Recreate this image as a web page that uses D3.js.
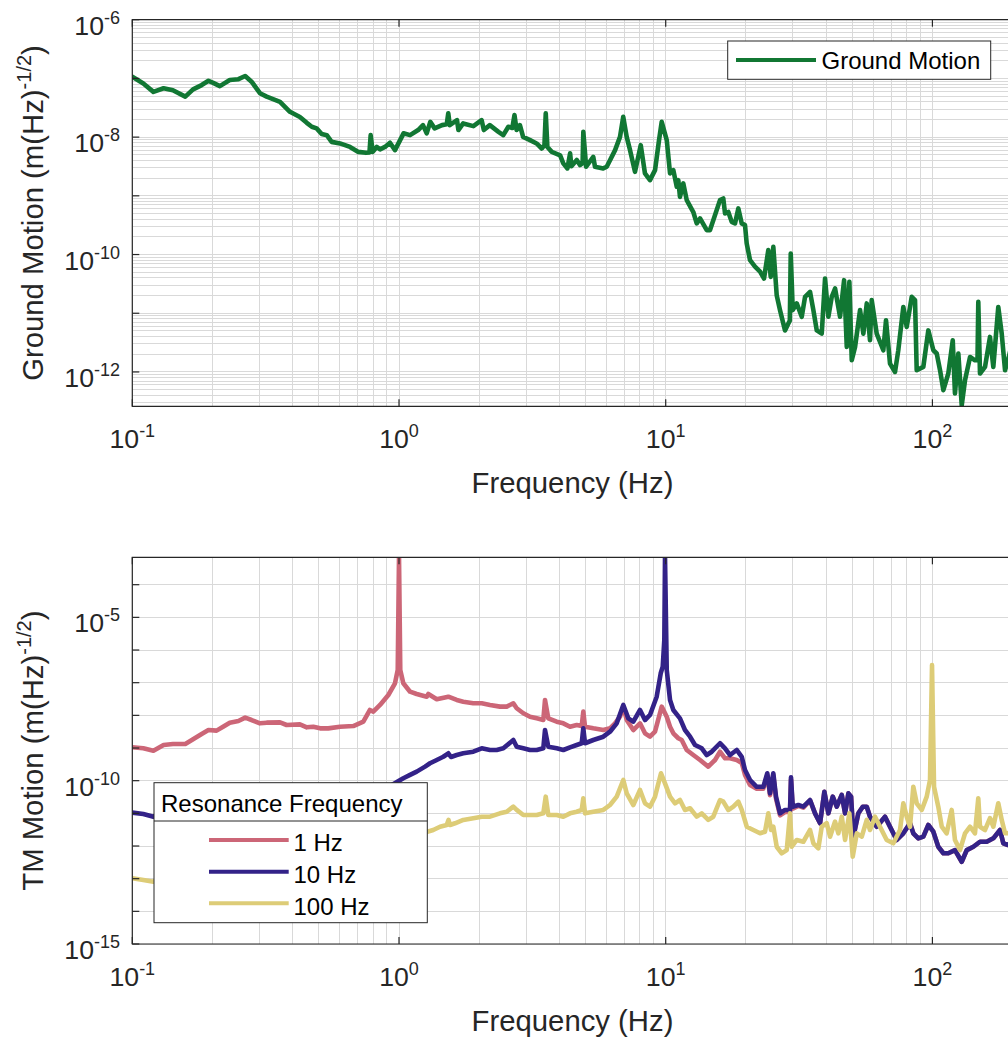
<!DOCTYPE html>
<html>
<head>
<meta charset="utf-8">
<script src="https://cdn.jsdelivr.net/npm/d3@7"></script>
<style>
  html, body { margin: 0; padding: 0; background: #fff; }
  svg { display: block; font-family: "Liberation Sans", Arial, Helvetica, sans-serif; }
</style>
</head>
<body>
<svg id="fig" width="1008" height="1040"></svg>
<script>
// Amplitude spectral densities, [frequency (Hz), amplitude (m/sqrt(Hz))]

const groundMotion = [
  [0.100,1.07e-7],[0.110,8.2e-8],[0.120,5.9e-8],[0.131,6.8e-8],[0.142,6.3e-8],[0.158,4.9e-8],
  [0.169,6.5e-8],[0.182,7.7e-8],[0.193,9.1e-8],[0.201,8.4e-8],[0.213,7.4e-8],[0.232,9.4e-8],
  [0.250,9.7e-8],[0.265,1.1e-7],[0.280,8.8e-8],[0.301,5.6e-8],[0.319,4.9e-8],[0.358,4.0e-8],
  [0.390,2.7e-8],[0.425,2.2e-8],[0.451,1.75e-8],[0.471,1.5e-8],[0.491,1.41e-8],[0.513,1.13e-8],
  [0.536,1.08e-8],[0.559,8.3e-9],[0.601,7.8e-9],[0.655,6.8e-9],[0.704,5.6e-9],[0.752,5.4e-9],
  [0.775,5.5e-9],[0.783,1.08e-8],[0.797,5.6e-9],[0.825,6.8e-9],[0.849,6.2e-9],[0.886,6.8e-9],
  [0.925,8.0e-9],[0.966,6.0e-9],[1.04,1.16e-8],[1.10,1.08e-8],[1.18,1.32e-8],[1.23,1.6e-8],
  [1.27,1.16e-8],[1.31,1.82e-8],[1.36,1.41e-8],[1.45,1.6e-8],[1.51,1.65e-8],[1.53,2.54e-8],
  [1.55,1.6e-8],[1.65,1.95e-8],[1.67,1.32e-8],[1.74,1.71e-8],[1.90,1.54e-8],[2.04,1.95e-8],
  [2.08,1.32e-8],[2.19,1.6e-8],[2.36,1.23e-8],[2.46,1.08e-8],[2.57,1.5e-8],[2.66,1.43e-8],
  [2.71,2.38e-8],[2.76,1.32e-8],[2.84,1.6e-8],[2.92,1.01e-8],[3.10,8.9e-9],[3.28,7.8e-9],
  [3.43,6.4e-9],[3.51,7.3e-9],[3.55,2.54e-8],[3.60,6.8e-9],[3.74,5.6e-9],[4.02,4.9e-9],
  [4.13,3.57e-9],[4.28,2.93e-9],[4.38,5.3e-9],[4.43,3.2e-9],[4.64,4.07e-9],[4.77,3.34e-9],
  [4.88,3.6e-9],[4.91,1.23e-8],[5.03,3.13e-9],[5.35,4.6e-9],[5.43,3.13e-9],[5.83,2.93e-9],
  [6.01,3.13e-9],[6.46,6.0e-9],[6.74,1.01e-8],[6.93,2.22e-8],[7.14,1.01e-8],[7.35,6.0e-9],
  [7.67,2.56e-9],[8.06,7.3e-9],[8.36,2.41e-9],[8.73,1.85e-9],[9.12,2.74e-9],[9.44,8.9e-9],
  [9.66,1.82e-8],[10.09,8.9e-9],[10.38,2.41e-9],[10.68,2.74e-9],[11.00,1.43e-9],[11.15,1.85e-9],
  [11.31,9.6e-10],[11.64,1.63e-9],[11.99,8.45e-10],[12.69,5.3e-10],[13.07,3.39e-10],[13.45,4.12e-10],
  [14.25,2.61e-10],[14.66,2.61e-10],[15.08,3.85e-10],[15.98,8.45e-10],[16.44,9.0e-10],[16.69,5.0e-10],
  [17.17,5.3e-10],[17.68,3.6e-10],[18.19,3.39e-10],[18.72,6.1e-10],[19.28,3.39e-10],[19.83,3.17e-10],
  [20.12,1.55e-10],[20.71,8.0e-11],[21.62,6.2e-11],[22.58,5.1e-11],[23.37,3.91e-11],[24.25,1.19e-10],
  [24.76,4.17e-11],[25.32,1.35e-10],[26.07,2.03e-11],[26.83,1.13e-11],[28.01,5.1e-12],[28.83,6.7e-12],
  [29.20,7.5e-12],[29.43,1.04e-10],[29.94,1.13e-11],[31.0,1.47e-11],[32.36,8.7e-12],[33.30,1.9e-11],
  [34.77,2.31e-11],[35.78,1.13e-11],[36.84,5.1e-12],[38.46,4.5e-12],[39.58,3.91e-11],[40.72,8.7e-12],
  [41.93,1.9e-11],[43.15,2.64e-11],[45.05,8.7e-12],[46.65,3.66e-11],[47.74,2.67e-12],[48.82,3.42e-11],
  [49.84,1.58e-12],[51.29,2.67e-12],[53.54,1.13e-11],[55.10,4.5e-12],[56.73,1.47e-11],[58.35,3.47e-12],
  [59.21,1.67e-11],[61.82,4.5e-12],[65.45,2.34e-12],[66.99,7.6e-12],[69.34,1.39e-12],[72.41,1.0e-12],
  [74.49,2.34e-12],[77.79,1.28e-11],[80.10,5.85e-12],[83.64,1.9e-11],[86.06,1.67e-11],[87.32,1.07e-12],
  [92.46,1.22e-12],[96.53,5.1e-12],[100.8,2.34e-12],[103.8,2.06e-12],[106.8,1.07e-12],[109.9,4.9e-13],
  [114.7,9.4e-13],[119.2,3.47e-12],[121.5,4.3e-13],[125.1,2.06e-12],[128.8,2.71e-13],[132.5,7.2e-13],
  [138.4,1.8e-12],[144.4,1.58e-12],[147.6,1.6e-12],[148.6,1.56e-11],[150.8,9.4e-13],[157.5,1.22e-12],
  [164.4,3.95e-12],[169.2,1.22e-12],[176.6,1.28e-11],[181.9,4.5e-12],[187.2,1.07e-12],[192.1,1.58e-12],
  [200,3.47e-12]
];

// Test-mass motion for a 1 Hz resonance
const tm1Hz = [
  [0.100,1.05e-9],[0.110,9.8e-10],[0.120,8.3e-10],[0.131,1.24e-9],[0.142,1.33e-9],[0.158,1.33e-9],
  [0.169,1.85e-9],[0.182,2.69e-9],[0.193,3.56e-9],[0.207,3.4e-9],[0.219,4.5e-9],[0.232,5.97e-9],
  [0.250,6.73e-9],[0.265,8.5e-9],[0.280,7.2e-9],[0.301,5.7e-9],[0.319,5.97e-9],[0.358,6.1e-9],
  [0.379,5.07e-9],[0.425,5.3e-9],[0.451,4.3e-9],[0.477,4.5e-9],[0.506,4.0e-9],[0.543,4.0e-9],
  [0.601,4.5e-9],[0.674,4.7e-9],[0.735,6.4e-9],[0.778,1.46e-8],[0.801,1.3e-8],[0.849,2.08e-8],
  [0.912,4.2e-8],[0.966,9.6e-8],[0.989,2.45e-7],[1.0,7e-4],[1.011,2.45e-7],[1.038,9.6e-8],
  [1.100,5.3e-8],[1.165,4.5e-8],[1.270,3.73e-8],[1.288,4.5e-8],[1.385,3.1e-8],[1.531,3.73e-8],
  [1.646,2.96e-8],[1.742,2.62e-8],[1.899,2.34e-8],[2.042,2.34e-8],[2.194,2.08e-8],[2.391,1.85e-8],
  [2.534,1.85e-8],[2.683,2.34e-8],[2.762,1.65e-8],[2.925,1.16e-8],[3.099,9.1e-9],[3.283,8.1e-9],
  [3.476,7.2e-9],[3.527,2.96e-8],[3.629,8.1e-9],[3.902,6.4e-9],[4.131,5.7e-9],[4.377,4.5e-9],
  [4.638,5.07e-9],[4.842,4.7e-9],[4.909,1.3e-8],[4.982,4.5e-9],[5.352,4.0e-9],[5.835,3.56e-9],
  [6.183,4.0e-9],[6.455,5.7e-9],[6.739,9.1e-9],[6.934,1.85e-8],[7.142,7.2e-9],[7.560,3.56e-9],
  [8.010,5.7e-9],[8.363,2.82e-9],[8.731,2.22e-9],[9.117,3.16e-9],[9.661,1.85e-8],[10.09,9.1e-9],
  [10.38,4.5e-9],[10.68,2.82e-9],[11.15,1.99e-9],[11.48,1.76e-9],[11.99,8.7e-10],[12.69,6.1e-10],
  [13.45,4.3e-10],[14.44,2.69e-10],[15.31,4.3e-10],[15.98,7.7e-10],[16.69,4.85e-10],[17.42,4.85e-10],
  [18.46,4.3e-10],[19.28,3.48e-10],[19.83,1.5e-10],[20.71,7.4e-11],[21.94,5.7e-11],[23.23,5.7e-11],
  [24.04,1.47e-10],[24.61,3.6e-11],[25.32,1.47e-10],[25.92,2.8e-11],[26.83,8.7e-12],[28.01,1.1e-11],
  [29.25,1.1e-11],[29.50,1.1e-10],[29.94,1.4e-11],[31.43,1.7e-11],[32.81,1.5e-11],[34.77,2.5e-11],
  [36.30,1.0e-11],[37.91,4.97e-12],[39.34,4.6e-11],[40.72,1.0e-11],[42.30,3.24e-11],[43.79,1.6e-11],
  [45.72,3.65e-11],[47.05,1.0e-11],[48.41,4.1e-11],[49.55,3.24e-11],[50.54,1.93e-12],[52.76,1.0e-11],
  [54.81,1.6e-11],[56.73,1.6e-11],[58.35,7.9e-12],[61.82,3.9e-12],[66.42,7.9e-12],[69.34,3.9e-12],
  [73.47,1.53e-12],[77.79,2.45e-12],[82.41,4.97e-12],[84.80,2.45e-12],[88.54,1.72e-12],[92.46,1.93e-12],
  [96.53,4.4e-12],[100.8,2.74e-12],[105.2,9.5e-13],[109.9,6.0e-13],[114.7,6.0e-13],[121.5,7.5e-13],
  [128.8,3.3e-13],[134.5,7.5e-13],[142.4,9.5e-13],[150.8,1.35e-12],[159.8,1.35e-12],[169.2,1.72e-12],
  [179.3,3.1e-12],[184.4,1.21e-12],[192.1,1.07e-12],[200.6,1.53e-12]
];

// Test-mass motion for a 10 Hz resonance
const tm10Hz = [
  [0.100,1.05e-11],[0.110,9.5e-12],[0.120,7.9e-12],[0.131,1.15e-11],[0.158,1.2e-11],[0.193,3.4e-11],
  [0.250,6.1e-11],[0.280,6.9e-11],[0.320,5.0e-11],[0.390,4.1e-11],[0.470,3.3e-11],[0.560,2.6e-11],
  [0.700,2.8e-11],[0.780,5.5e-11],[0.900,6.0e-11],[1.0,1.0e-10],[1.038,1.19e-10],[1.100,1.5e-10],
  [1.165,1.89e-10],[1.252,2.69e-10],[1.307,3.41e-10],[1.385,4.3e-10],[1.466,5.4e-10],[1.531,6.9e-10],
  [1.567,5.3e-10],[1.646,6.1e-10],[1.742,6.9e-10],[1.899,7.7e-10],[2.042,9.8e-10],[2.194,8.7e-10],
  [2.324,8.7e-10],[2.461,9.8e-10],[2.683,1.76e-9],[2.762,1.1e-9],[2.925,9.8e-10],[3.099,8.7e-10],
  [3.283,8.7e-10],[3.476,9.8e-10],[3.527,3.56e-9],[3.629,1.1e-9],[3.902,9.8e-10],[4.131,8.7e-10],
  [4.377,1.05e-9],[4.638,1.24e-9],[4.842,1.4e-9],[4.909,4.0e-9],[4.982,1.4e-9],[5.352,1.76e-9],
  [5.835,2.22e-9],[6.183,3.16e-9],[6.551,5.7e-9],[6.934,2.08e-8],[7.241,8.1e-9],[7.560,6.4e-9],
  [8.010,1.46e-8],[8.363,7.2e-9],[8.731,1.03e-8],[9.251,3.73e-8],[9.578,1.94e-7],[9.746,3.09e-7],
  [9.881,2.03e-6],[9.940,7e-4],[10.09,2.45e-7],[10.38,2.96e-8],[10.68,1.46e-8],[11.31,8.1e-9],
  [11.81,3.56e-9],[12.34,2.22e-9],[12.88,1.24e-9],[13.65,9.8e-10],[14.25,6.1e-10],[14.88,7.7e-10],
  [15.98,1.4e-9],[16.69,9.8e-10],[17.42,6.1e-10],[18.46,8.7e-10],[19.28,5.4e-10],[19.83,2.13e-10],
  [20.71,1.05e-10],[21.94,6.5e-11],[23.23,6.5e-11],[24.04,1.69e-10],[24.61,4.1e-11],[25.32,1.69e-10],
  [25.92,3.24e-11],[26.83,1.0e-11],[28.01,1.27e-11],[29.25,1.27e-11],[29.50,1.27e-10],[29.94,1.6e-11],
  [31.43,1.8e-11],[32.81,1.6e-11],[34.77,2.56e-11],[36.30,1.0e-11],[37.91,4.97e-12],[39.34,4.6e-11],
  [40.72,1.0e-11],[42.30,3.24e-11],[43.79,1.6e-11],[45.72,3.65e-11],[47.05,1.0e-11],[48.41,4.1e-11],
  [49.55,3.24e-11],[50.54,1.93e-12],[52.76,1.0e-11],[54.81,1.6e-11],[56.73,1.6e-11],[58.35,7.9e-12],
  [61.82,3.9e-12],[66.42,7.9e-12],[69.34,3.9e-12],[73.47,1.53e-12],[77.79,2.45e-12],[82.41,4.97e-12],
  [84.80,2.45e-12],[88.54,1.72e-12],[92.46,1.93e-12],[96.53,4.4e-12],[100.8,2.74e-12],[105.2,9.5e-13],
  [109.9,6.0e-13],[114.7,6.0e-13],[121.5,7.5e-13],[128.8,3.3e-13],[134.5,7.5e-13],[142.4,9.5e-13],
  [150.8,1.35e-12],[159.8,1.35e-12],[169.2,1.72e-12],[179.3,3.1e-12],[184.4,1.21e-12],[192.1,1.07e-12],
  [200.6,1.53e-12]
];

// Test-mass motion for a 100 Hz resonance
const tm100Hz = [
  [0.100,1.03e-13],[0.110,9.1e-14],[0.120,8.1e-14],[0.131,1.15e-13],[0.158,1.2e-13],[0.193,3.4e-13],
  [0.250,6.1e-13],[0.280,6.9e-13],[0.320,5.0e-13],[0.390,4.1e-13],[0.470,3.3e-13],[0.560,2.6e-13],
  [0.700,2.8e-13],[0.780,5.5e-13],[0.900,6.0e-13],[1.0,1.0e-12],[1.10,1.3e-12],[1.20,1.9e-12],
  [1.277,2.74e-12],[1.344,3.1e-12],[1.425,3.9e-12],[1.510,4.4e-12],[1.533,6.3e-12],[1.553,4.4e-12],
  [1.622,4.97e-12],[1.742,6.3e-12],[1.899,7.1e-12],[2.042,7.9e-12],[2.194,7.9e-12],[2.391,1.0e-11],
  [2.534,1.12e-11],[2.683,1.6e-11],[2.762,1.27e-11],[2.925,8.9e-12],[3.099,8.9e-12],[3.283,8.9e-12],
  [3.476,1.0e-11],[3.549,3.24e-11],[3.629,8.9e-12],[3.902,8.9e-12],[4.131,7.9e-12],[4.377,1.0e-11],
  [4.638,1.12e-11],[4.842,1.27e-11],[4.909,2.89e-11],[4.982,1.0e-11],[5.352,1.12e-11],[5.835,1.27e-11],
  [6.183,1.8e-11],[6.551,3.24e-11],[6.934,1.05e-10],[7.142,4.1e-11],[7.560,1.8e-11],[8.010,5.2e-11],
  [8.363,2.03e-11],[8.731,1.6e-11],[9.117,3.24e-11],[9.602,1.69e-10],[9.940,8.3e-11],[10.38,3.24e-11],
  [10.84,2.03e-11],[11.31,2.56e-11],[11.81,1.27e-11],[12.34,1.43e-11],[13.07,7.9e-12],[13.65,1.0e-11],
  [14.44,6.3e-12],[15.08,7.9e-12],[15.98,2.56e-11],[16.44,2.28e-11],[17.17,1.27e-11],[17.93,1.6e-11],
  [18.72,2.28e-11],[19.28,1.27e-11],[20.13,3.9e-12],[21.31,3.1e-12],[22.58,2.45e-12],[23.57,2.74e-12],
  [24.25,1.0e-11],[24.82,3.1e-12],[25.32,3.9e-12],[26.07,9.5e-13],[27.22,6.0e-13],[28.43,7.5e-13],
  [29.25,1.0e-11],[29.68,9.5e-13],[31.0,1.53e-12],[32.81,1.35e-12],[34.77,3.1e-12],[35.78,1.21e-12],
  [37.35,8.5e-13],[38.46,3.9e-12],[40.16,4.97e-12],[41.32,1.93e-12],[43.15,5.6e-12],[44.40,2.45e-12],
  [45.72,7.9e-12],[47.05,1.53e-12],[48.82,1.0e-11],[50.27,4.7e-13],[52.04,2.45e-12],[54.34,1.93e-12],
  [56.73,6.3e-12],[58.35,3.1e-12],[60.93,7.9e-12],[63.61,3.9e-12],[67.39,1.53e-12],[71.35,1.21e-12],
  [75.60,3.1e-12],[77.79,2.03e-11],[80.10,7.9e-12],[82.41,3.9e-12],[84.80,6.5e-11],[87.32,2.03e-11],
  [91.19,1.27e-11],[95.20,3.24e-11],[97.95,1.05e-10],[99.66,3.49e-7],[101.4,6.5e-11],[105.2,1.6e-11],
  [108.4,3.9e-12],[113.1,2.45e-12],[118.1,1.27e-11],[121.5,1.53e-12],[126.9,7.5e-13],[132.5,2.45e-12],
  [138.4,3.9e-12],[144.4,2.45e-12],[148.6,2.89e-11],[150.8,3.9e-12],[157.5,3.1e-12],[164.4,7.1e-12],
  [169.2,3.9e-12],[176.6,2.03e-11],[181.9,6.3e-12],[187.2,2.45e-12],[192.1,2.45e-12],[200.6,3.1e-12]
];

// Axis ranges and tick values
const freqDomain = [0.1, 200];
const freqTicks = [0.1, 1, 10, 100];
const groundDomain = [2.6e-13, 1e-6];
const groundTicks = [1e-12, 1e-10, 1e-8, 1e-6];
const tmDomain = [1e-15, 6.9e-4];
const tmTicks = [1e-15, 1e-10, 1e-5];

// Legend entries
const groundLegend = ["Ground Motion"];
const tmLegendTitle = "Resonance Frequency";
const tmLegend = ["1 Hz", "10 Hz", "100 Hz"];

// Colours
const COL = {
  ground: "#117733", f1: "#CC6677", f10: "#332288", f100: "#DDCC77",
  text: "#262626", axis: "#262626", grid: "#d9d9d9"
};

const svg = d3.select("#fig");
svg.append("rect").attr("width", 1008).attr("height", 1040).attr("fill", "#fff");

const plotLeft = 132.3, plotRight = 1012.7;
const x = d3.scaleLog().domain(freqDomain).range([plotLeft, plotRight]);

const TICK_FS = 26.7, SUP_FS = 18, LABEL_FS = 29.3, LEG_FS = 24, DATA_W = 4.6;

function decadeMinors(lo, hi) {
  const out = [];
  for (let e = Math.floor(Math.log10(lo)); e <= Math.ceil(Math.log10(hi)); e++) {
    for (let k = 1; k <= 9; k++) {
      const v = k * Math.pow(10, e);
      if (v >= lo * 0.999 && v <= hi * 1.001) out.push({ v, major: k === 1 });
    }
  }
  return out;
}

function powerLabel(textSel, v, supFs, raise) {
  const e = Math.round(Math.log10(v));
  textSel.append("tspan").text("10");
  textSel.append("tspan").attr("font-size", supFs).attr("dy", -raise).text(String(e));
}

function drawPanel(cfg) {
  const { top, bottom, yDomain, yTicks, minorY, series, id, yLabel } = cfg;
  const y = d3.scaleLog().domain(yDomain).range([bottom, top]);
  const g = svg.append("g");

  // grid
  const grid = g.append("g").attr("stroke", COL.grid).attr("stroke-width", 1).attr("shape-rendering", "crispEdges");
  decadeMinors(freqDomain[0], freqDomain[1]).forEach(t => {
    grid.append("line").attr("x1", x(t.v)).attr("x2", x(t.v)).attr("y1", top).attr("y2", bottom);
  });
  const yLines = minorY ? decadeMinors(yDomain[0], yDomain[1])
                        : decadeMinors(yDomain[0], yDomain[1]).filter(d => d.major);
  yLines.forEach(t => {
    grid.append("line").attr("x1", plotLeft).attr("x2", plotRight).attr("y1", y(t.v)).attr("y2", y(t.v));
  });

  // data
  svg.append("clipPath").attr("id", id).append("rect")
    .attr("x", plotLeft).attr("y", top).attr("width", plotRight - plotLeft).attr("height", bottom - top);
  const line = d3.line().x(d => x(d[0])).y(d => y(d[1]));
  const lines = g.append("g").attr("clip-path", `url(#${id})`);
  series.forEach(s => {
    lines.append("path").datum(s.data).attr("d", line)
      .attr("fill", "none").attr("stroke", s.color).attr("stroke-width", DATA_W)
      .attr("stroke-linejoin", "round").attr("stroke-linecap", "round");
  });

  // frame + inward major ticks
  const fr = g.append("g").attr("stroke", COL.axis).attr("stroke-width", 1.2).attr("fill", "none");
  fr.append("path").attr("d", `M${plotRight},${top}H${plotLeft}V${bottom}H${plotRight}`);
  freqTicks.forEach(t => {
    fr.append("line").attr("x1", x(t)).attr("x2", x(t)).attr("y1", bottom).attr("y2", bottom - 7);
    fr.append("line").attr("x1", x(t)).attr("x2", x(t)).attr("y1", top).attr("y2", top + 7);
  });
  decadeMinors(yDomain[0], yDomain[1]).filter(d => d.major).forEach(t => {
    fr.append("line").attr("x1", plotLeft).attr("x2", plotLeft + 7).attr("y1", y(t.v)).attr("y2", y(t.v));
  });

  // tick labels
  freqTicks.forEach(t => {
    const tx = g.append("text").attr("x", x(t)).attr("y", bottom + 42)
      .attr("text-anchor", "middle").attr("font-size", TICK_FS).attr("fill", COL.text);
    powerLabel(tx, t, SUP_FS, 11);
  });
  yTicks.forEach(t => {
    const tx = g.append("text").attr("x", 120).attr("y", y(t) + 15)
      .attr("text-anchor", "end").attr("font-size", TICK_FS).attr("fill", COL.text);
    powerLabel(tx, t, SUP_FS, 11);
  });

  // axis labels
  g.append("text").attr("x", (plotLeft + plotRight) / 2).attr("y", bottom + 87)
    .attr("text-anchor", "middle").attr("font-size", LABEL_FS).attr("fill", COL.text)
    .text("Frequency (Hz)");
  const yl = g.append("text")
    .attr("transform", `translate(43,${(top + bottom) / 2}) rotate(-90)`)
    .attr("text-anchor", "middle").attr("font-size", LABEL_FS).attr("fill", COL.text);
  yl.append("tspan").text(yLabel + " (m(Hz)");
  yl.append("tspan").attr("font-size", 20).attr("dy", -12).text("-1/2");
  yl.append("tspan").attr("dy", 12).text(")");

  return g;
}

// Upper panel: ground motion
drawPanel({
  id: "clipGround", top: 19.7, bottom: 406.3, yDomain: groundDomain, yTicks: groundTicks,
  minorY: true, yLabel: "Ground Motion",
  series: [{ data: groundMotion, color: COL.ground }]
});

// Lower panel: test-mass motion for three resonance frequencies
drawPanel({
  id: "clipTM", top: 557.3, bottom: 944, yDomain: tmDomain, yTicks: tmTicks,
  minorY: false, yLabel: "TM Motion",
  series: [
    { data: tm1Hz, color: COL.f1 },
    { data: tm10Hz, color: COL.f10 },
    { data: tm100Hz, color: COL.f100 }
  ]
});

// Legend: ground motion
{
  const lg = svg.append("g");
  lg.append("rect").attr("x", 727.7).attr("y", 41).attr("width", 263).attr("height", 38.3)
    .attr("fill", "#fff").attr("stroke", COL.axis).attr("stroke-width", 1);
  lg.append("line").attr("x1", 736).attr("x2", 816).attr("y1", 60).attr("y2", 60)
    .attr("stroke", COL.ground).attr("stroke-width", 4);
  lg.append("text").attr("x", 821.5).attr("y", 69).attr("font-size", LEG_FS).attr("fill", "#000")
    .text(groundLegend[0]);
}

// Legend: resonance frequencies
{
  const lg = svg.append("g");
  const bx = 154, by = 782.7, bw = 273.3, bh = 140;
  lg.append("rect").attr("x", bx).attr("y", by).attr("width", bw).attr("height", bh)
    .attr("fill", "#fff").attr("stroke", COL.axis).attr("stroke-width", 1);
  lg.append("line").attr("x1", bx).attr("x2", bx + bw).attr("y1", 821).attr("y2", 821)
    .attr("stroke", COL.axis).attr("stroke-width", 1);
  lg.append("text").attr("x", 161).attr("y", 811.5).attr("font-size", LEG_FS).attr("fill", "#000")
    .text(tmLegendTitle);
  const cols = [COL.f1, COL.f10, COL.f100];
  tmLegend.forEach((name, i) => {
    const ly = 840 + i * 31.65;
    lg.append("line").attr("x1", 209).attr("x2", 288.7).attr("y1", ly).attr("y2", ly)
      .attr("stroke", cols[i]).attr("stroke-width", 4);
    lg.append("text").attr("x", 293.5).attr("y", ly + 11.3).attr("font-size", LEG_FS).attr("fill", "#000")
      .text(name);
  });
}
</script>
</body>
</html>
